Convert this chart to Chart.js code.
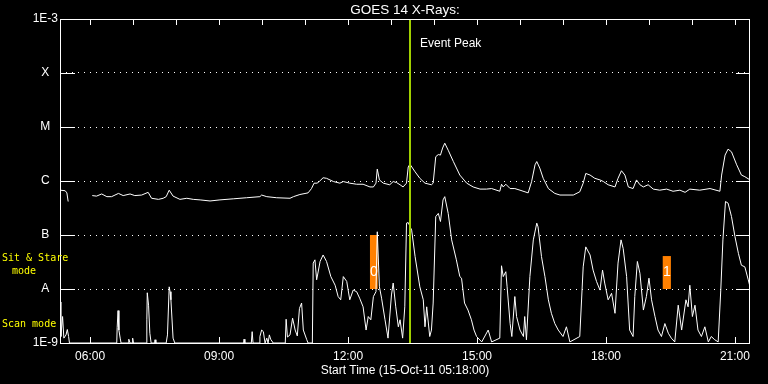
<!DOCTYPE html>
<html><head><meta charset="utf-8">
<script src="https://cdn.jsdelivr.net/npm/chart.js@4/dist/chart.umd.min.js"></script>
<style>html,body{margin:0;padding:0;background:#000;}#wrap{width:768px;height:384px;}</style>
</head><body><div id="wrap"><canvas id="c" width="768" height="384"></canvas></div>
<script>
// ---- Data (time in decimal hours UT, flux as log10 W/m^2) ----
const title = 'GOES 14 X-Rays:';
const xTitle = 'Start Time (15-Oct-11 05:18:00)';
const xMin = 5.3, xMax = 21.35;
const yTickValues = [-9, -8, -7, -6, -5, -4, -3];
const yTickLabels = ['1E-9', 'A', 'B', 'C', 'M', 'X', '1E-3'];
const xLabelHours = [6, 9, 12, 15, 18, 21];
const topTickHours = [6,7,8,9,10,11,12,13,14,15,16,17,18,19,20,21];
const eventPeakHour = 13.44;
const modeStart = [12.51, 19.32];
const modeEnd = [12.69, 19.51];
const modeTop = [-7, -7.39];
const modeBottom = [-8, -8];
const modeLabels = ['0', '1'];

const longTime = [5.30,5.42,5.46,5.49,5.70,
 6.05,6.15,6.27,6.39,6.50,6.66,6.77,6.93,7.04,7.20,7.35,7.43,7.59,7.70,7.77,7.84,7.93,8.09,8.25,8.40,8.56,8.79,9.02,9.33,9.64,9.95,9.99,10.11,10.34,10.65,10.73,10.88,11.07,11.15,11.21,11.28,11.33,11.42,11.50,11.66,11.81,11.89,12.04,12.20,12.35,12.51,12.59,12.65,12.68,12.73,12.82,12.97,13.05,13.13,13.21,13.28,13.36,13.40,13.44,13.56,13.67,13.79,13.94,13.98,14.04,14.10,14.15,14.20,14.25,14.33,14.45,14.60,14.76,14.91,15.07,15.22,15.34,15.53,15.57,15.61,15.67,15.77,15.88,16.00,16.19,16.27,16.35,16.39,16.46,16.54,16.66,16.81,16.93,17.24,17.39,17.47,17.53,17.63,17.74,17.86,17.94,18.05,18.21,18.28,18.36,18.44,18.52,18.63,18.71,18.79,18.87,18.98,19.10,19.25,19.41,19.56,19.72,19.84,19.95,20.18,20.42,20.65,20.69,20.77,20.84,20.92,21.04,21.15,21.23,21.35];
const longFlux = [-6.17,-6.18,-6.22,-6.38,null,
 -6.27,-6.28,-6.24,-6.29,-6.29,-6.23,-6.27,-6.24,-6.27,-6.26,-6.21,-6.32,-6.34,-6.32,-6.29,-6.17,-6.28,-6.34,-6.32,-6.34,-6.35,-6.37,-6.35,-6.33,-6.31,-6.29,-6.26,-6.29,-6.31,-6.32,-6.29,-6.25,-6.22,-6.14,-6.04,-6.04,-6.01,-5.94,-5.95,-6.01,-6.04,-6.01,-6.04,-6.06,-6.06,-6.11,-6.11,-6.04,-5.78,-5.98,-6.04,-6.07,-6.01,-6.03,-6.07,-6.11,-6.04,-5.74,-5.69,-5.83,-5.95,-6.04,-6.07,-6.04,-5.55,-5.51,-5.52,-5.39,-5.30,-5.43,-5.64,-5.89,-6.04,-6.11,-6.15,-6.15,-6.14,-6.19,-6.06,-6.11,-6.06,-6.14,-6.14,-6.17,-6.22,-6.01,-5.70,-5.64,-5.76,-5.95,-6.14,-6.23,-6.26,-6.26,-6.20,-6.04,-5.86,-5.89,-5.95,-5.98,-6.01,-6.07,-6.11,-5.95,-5.81,-5.89,-6.11,-6.14,-5.98,-6.07,-6.11,-6.07,-6.15,-6.17,-6.15,-6.19,-6.17,-6.21,-6.15,-6.17,-6.14,-6.19,-5.89,-5.52,-5.41,-5.46,-5.70,-5.89,-5.92,-5.98];

const shortTime = [5.30,5.32,5.36,5.39,5.44,5.47,5.50,5.52,6.62,6.63,6.65,6.67,6.70,6.72,6.89,6.90,6.93,6.98,6.99,7.01,7.31,7.32,7.33,7.36,7.39,7.42,7.50,7.51,7.53,7.77,7.80,7.84,7.86,7.88,7.93,7.97,9.57,9.58,9.60,9.75,9.77,9.79,9.93,9.95,9.99,10.03,10.07,10.11,10.14,10.17,10.20,10.26,10.54,10.56,10.59,10.65,10.71,10.77,10.82,10.87,10.92,10.96,11.04,11.07,11.17,
 11.19,11.23,11.27,11.35,11.42,11.50,11.60,11.70,11.77,11.83,11.89,11.97,12.04,12.12,12.20,12.27,12.35,12.42,12.47,12.53,12.59,12.65,12.68,12.73,12.78,12.86,12.93,13.01,13.05,13.11,13.17,13.21,13.27,13.32,
 13.36,13.40,13.48,13.56,13.67,13.75,13.79,13.83,13.90,13.94,13.98,14.04,14.10,14.15,14.21,14.25,14.33,14.41,14.52,14.60,14.64,14.71,14.79,14.87,14.93,14.99,15.11,15.26,15.34,15.53,15.57,15.61,15.67,15.70,15.77,15.81,15.88,15.92,16.00,16.08,16.11,16.15,16.23,16.31,16.39,16.42,16.50,16.58,16.66,16.73,16.81,16.89,17.00,17.08,17.16,17.39,17.47,17.53,17.63,17.70,17.78,17.86,17.92,17.97,18.05,18.13,18.21,18.28,18.35,18.40,18.48,18.55,18.63,18.67,18.73,18.79,18.87,18.94,19.00,19.06,19.14,19.21,19.29,19.37,19.45,19.52,19.60,19.68,19.76,19.86,19.91,19.95,20.01,20.07,20.14,20.22,20.30,20.38,20.45,20.53,20.61,20.67,20.72,20.78,20.84,20.92,21.00,21.08,21.15,21.23,21.31,21.35];
const shortFlux = [-8.24,-8.88,-8.51,-8.91,-8.85,-8.75,-8.88,-9,-9,-8.71,-8.40,-8.76,-8.91,-9,-9,-8.93,-9,-9,-8.91,-9,-9,-8.57,-8.07,-8.30,-8.82,-9,-9,-8.94,-9,-9,-8.85,-7.96,-8.05,-8.20,-8.91,-9,-9,-8.93,-9,-9,-8.79,-9,-9,-8.88,-8.76,-8.79,-9,-8.91,-9,-8.85,-8.93,-9,-9,-8.56,-8.89,-8.85,-8.54,-8.76,-8.87,-8.36,-8.26,-8.76,-8.94,-9,-9,
 -7.52,-7.46,-7.83,-7.49,-7.37,-7.49,-7.77,-7.93,-8.14,-8.20,-7.77,-7.86,-8.20,-8.02,-8.05,-8.17,-8.33,-8.76,-8.51,-8.57,-8.14,-8.05,-6.94,-7.96,-8.17,-8.57,-8.91,-8.11,-7.89,-8.33,-8.70,-8.57,-8.91,-8.33,
 -6.78,-6.77,-6.91,-7.40,-7.96,-8.20,-8.70,-8.33,-8.88,-8.76,-8.26,-6.66,-6.60,-6.75,-6.35,-6.29,-6.60,-7.09,-7.46,-7.77,-7.80,-8.26,-8.39,-8.57,-8.76,-8.88,-8.98,-8.76,-8.98,-8.91,-7.57,-7.77,-7.68,-7.96,-8.64,-8.88,-8.14,-8.51,-8.76,-8.88,-8.51,-8.94,-7.77,-7.09,-6.78,-6.85,-7.40,-7.77,-8.20,-8.45,-8.64,-8.76,-8.88,-8.70,-8.98,-8.88,-7.59,-7.22,-7.37,-7.65,-7.86,-8.02,-7.65,-7.89,-8.20,-8.08,-8.45,-7.52,-7.09,-7.25,-7.77,-8.76,-8.88,-8.14,-7.49,-7.71,-8.39,-8.14,-7.80,-8.20,-8.51,-8.76,-8.88,-8.64,-8.82,-8.91,-8.98,-8.30,-8.76,-8.20,-8.33,-7.93,-8.51,-8.30,-8.76,-8.88,-8.70,-8.98,-8.88,-8.94,-8.98,-8.02,-7.09,-6.38,-6.41,-6.66,-7.03,-7.34,-7.56,-7.59,-7.83,-7.96];

const toPts = (t, f) => t.map((x, i) => ({x: x, y: f[i] === null ? null : Math.pow(10, f[i])}));
const fmtHour = h => String(Math.floor(h)).padStart(2, '0') + ':00';

const FONT = 'Liberation Sans';
const MONO = 'DejaVu Sans Mono';

const deco = {
  id: 'deco',
  beforeDraw(chart) {
    const c = chart.ctx;
    c.save(); c.fillStyle = '#000'; c.fillRect(0, 0, chart.width, chart.height); c.restore();
  },
  beforeDatasetsDraw(chart) {
    const c = chart.ctx, xs = chart.scales.x, ys = chart.scales.y;
    c.save();
    c.fillStyle = '#ff8000';
    for (let i = 0; i < modeStart.length; i++) {
      const x0 = xs.getPixelForValue(modeStart[i]), x1 = xs.getPixelForValue(modeEnd[i]);
      const y0 = ys.getPixelForValue(Math.pow(10, modeTop[i])), y1 = ys.getPixelForValue(Math.pow(10, modeBottom[i]));
      c.fillRect(x0, y0, x1 - x0, y1 - y0);
    }
    c.restore();
  },
  afterDatasetsDraw(chart) {
    const c = chart.ctx, xs = chart.scales.x, ys = chart.scales.y, a = chart.chartArea;
    c.save();
    // mode labels
    c.fillStyle = '#fff'; c.font = '14px "' + FONT + '"'; c.textAlign = 'center'; c.textBaseline = 'middle';
    for (let i = 0; i < modeStart.length; i++) {
      const xm = xs.getPixelForValue((modeStart[i] + modeEnd[i]) / 2);
      c.fillText(modeLabels[i], xm, ys.getPixelForValue(Math.pow(10, -7.68)));
    }
    // event peak line
    const xp = Math.round(xs.getPixelForValue(eventPeakHour));
    c.strokeStyle = '#a0d000'; c.lineWidth = 2;
    c.beginPath(); c.moveTo(xp, a.top); c.lineTo(xp, a.bottom); c.stroke();
    c.fillStyle = '#fff'; c.font = '12px "' + FONT + '"'; c.textAlign = 'left';
    c.fillText('Event Peak', xp + 10, a.top + 25);
    // frame
    c.strokeStyle = '#fff'; c.lineWidth = 1;
    c.strokeRect(a.left + 0.5, a.top + 0.5, a.right - a.left - 1, a.bottom - a.top);
    c.beginPath();
    yTickValues.forEach(v => {
      const y = Math.round(ys.getPixelForValue(Math.pow(10, v))) + 0.5;
      c.moveTo(a.left, y); c.lineTo(a.left + 15, y);
      c.moveTo(a.right - 14, y); c.lineTo(a.right, y);
    });
    topTickHours.forEach(h => {
      const x = Math.round(xs.getPixelForValue(h)) + 0.5;
      c.moveTo(x, a.top); c.lineTo(x, a.top + 6);
    });
    xLabelHours.forEach(h => {
      const x = Math.round(xs.getPixelForValue(h)) + 0.5;
      c.moveTo(x, a.bottom); c.lineTo(x, a.bottom - 6);
    });
    c.stroke();
    // title
    c.fillStyle = '#fff'; c.font = '13.5px "' + FONT + '"'; c.textAlign = 'center'; c.textBaseline = 'middle';
    c.fillText(title, (a.left + a.right) / 2, 10);
    // yellow side labels
    c.fillStyle = '#ffff00'; c.font = '10px "' + MONO + '"'; c.textAlign = 'left';
    c.fillText('Sit & Stare', 2, 258);
    c.textAlign = 'center';
    c.fillText('mode', 24, 271);
    c.textAlign = 'left';
    c.fillText('Scan mode', 2, 324);
    c.restore();
  }
};

new Chart(document.getElementById('c'), {
  type: 'line',
  data: {
    datasets: [
      { data: toPts(longTime, longFlux), borderColor: '#fff', borderWidth: 1, pointRadius: 0, spanGaps: false, tension: 0 },
      { data: toPts(shortTime, shortFlux), borderColor: '#fff', borderWidth: 1, pointRadius: 0, spanGaps: false, tension: 0 }
    ]
  },
  options: {
    responsive: false, animation: false,
    layout: { padding: { left: 0, right: 18, top: 19, bottom: 0 } },
    plugins: { legend: { display: false }, tooltip: { enabled: false } },
    scales: {
      x: {
        type: 'linear', min: xMin, max: xMax,
        afterBuildTicks: s => { s.ticks = xLabelHours.map(v => ({ value: v })); },
        afterFit: s => { s.height = 41; },
        grid: { display: false, drawTicks: false },
        border: { display: false },
        ticks: { color: '#fff', font: { family: FONT, size: 12 }, padding: 6, maxRotation: 0, callback: v => fmtHour(v) },
        title: { display: true, text: xTitle, color: '#fff', font: { family: FONT, size: 12 }, padding: { top: 0, bottom: 6 } }
      },
      y: {
        type: 'logarithmic', min: 1e-9, max: 1e-3,
        afterBuildTicks: s => { s.ticks = yTickValues.map(v => ({ value: Math.pow(10, v) })); },
        afterFit: s => { s.width = 60; },
        grid: { color: ctx => (ctx.tick && (ctx.tick.value <= 1.0001e-9 || ctx.tick.value >= 0.9999e-3)) ? 'rgba(0,0,0,0)' : '#fff', drawTicks: false, lineWidth: 1 },
        border: { display: false, dash: [1, 5] },
        ticks: {
          color: '#fff', font: { family: FONT, size: 12 }, padding: 2, crossAlign: 'center',
          callback: v => { const i = yTickValues.indexOf(Math.round(Math.log10(v))); return i >= 0 ? yTickLabels[i] : ''; }
        }
      }
    }
  },
  plugins: [deco]
});
</script></body></html>
